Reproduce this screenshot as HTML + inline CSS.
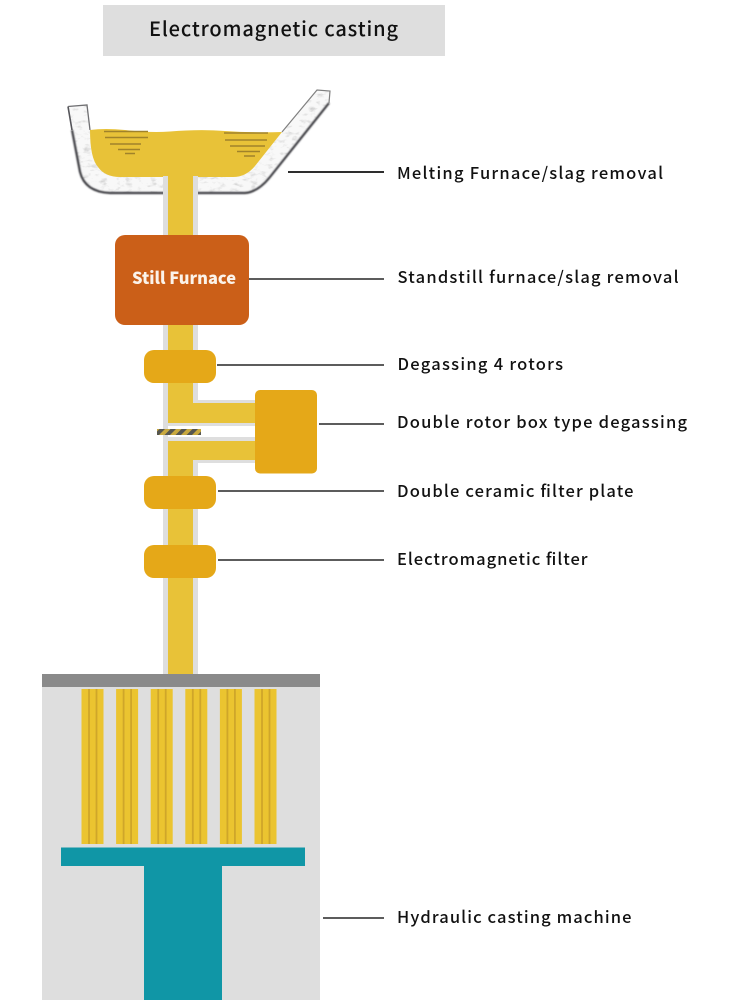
<!DOCTYPE html>
<html><head><meta charset="utf-8">
<style>
html,body{margin:0;padding:0;background:#fff;width:750px;height:1000px;overflow:hidden}
svg{display:block}
text{font-family:"Liberation Sans","Noto Sans CJK SC",sans-serif;fill:#111}
.l{font-family:"Noto Sans CJK SC","Liberation Sans",sans-serif;font-weight:500}
</style></head><body>
<svg width="750" height="1000" viewBox="0 0 750 1000" xmlns="http://www.w3.org/2000/svg">
<defs>
<pattern id="hatch" width="11" height="6" patternUnits="userSpaceOnUse" patternTransform="skewX(-45)">
<rect width="11" height="6" fill="#56564f"/><rect width="5.500" height="6" fill="#c9a93e"/>
</pattern>
<clipPath id="ladle"><path d="M68 106.500 L87 105 L90 130 Q90 158 98 167 Q105 177 120 177 L233 177 Q246 177 255 166 L282 132 L317 90 L330 91 L329 103 L270 177 Q258 192 245 193 L110 193 Q85 192 80 172 Z"/></clipPath>
<filter id="speck" x="0" y="0" width="100%" height="100%">
<feTurbulence type="fractalNoise" baseFrequency="0.12 0.25" numOctaves="3" seed="4"/>
<feColorMatrix values="0 0 0 0 0.5  0 0 0 0 0.5  0 0 0 0 0.5  1.800 0 0 0 -0.950"/>
</filter>
<filter id="soft"><feGaussianBlur stdDeviation="0.700"/></filter>
</defs>
<rect x="103" y="5" width="342" height="51" fill="#dedede"/>
<text class="l" x="149" y="36" font-size="20" textLength="249" lengthAdjust="spacing">Electromagnetic casting</text>

<!-- ladle -->
<path d="M68 106.500 L87 105 L90 130 Q90 158 98 167 Q105 177 120 177 L233 177 Q246 177 255 166 L282 132 L317 90 L330 91 L329 103 L270 177 Q258 192 245 193 L110 193 Q85 192 80 172 Z" fill="#f8f8f8"/>
<rect x="60" y="85" width="280" height="115" filter="url(#speck)" clip-path="url(#ladle)"/>
<path d="M72 130 L80 172 Q85 192 110 193 L245 193 Q258 192 270 177 L329 103" fill="none" stroke="#3e3e42" stroke-width="2.200" filter="url(#soft)"/>
<path d="M68 106.500 L72 130" fill="none" stroke="#55555a" stroke-width="1.600"/>
<path d="M68 106.500 L87 105 L90 130" fill="none" stroke="#6f6f72" stroke-width="1.300"/>
<path d="M282 132 L317 90 L330 91 L329 103" fill="none" stroke="#808080" stroke-width="1.200"/>
<path d="M90 130 Q105 128 125 130 Q150 133 170 131.500 Q200 129 225 131 Q255 133 282 132 L255 166 Q246 177 233 177 L120 177 Q105 177 98 167 Q90 158 90 130 Z" fill="#e8c238"/>
<g stroke="#a0822a" stroke-width="1.600">
<path d="M104 131.500H148M105 137.500H148M110 144H141M118 149.500H140M125 153.500H135"/>
<path d="M224 133H268M225 140H267M230 146H265M237 151.500H260M244 156H255"/>
</g>

<!-- main pipe -->
<rect x="163" y="176" width="35" height="214" fill="#dedede"/>
<rect x="163" y="390" width="5" height="285" fill="#dedede"/>
<rect x="193" y="440" width="5" height="235" fill="#dedede"/>
<rect x="193" y="325" width="5" height="75" fill="#dedede"/>
<rect x="168" y="174" width="25" height="249" fill="#e8c238"/>
<rect x="168" y="441" width="25" height="233" fill="#e8c238"/>
<rect x="193" y="400" width="62" height="26" fill="#dedede"/>
<rect x="168" y="423" width="30" height="3" fill="#dedede"/>
<rect x="193" y="437" width="62" height="26" fill="#dedede"/>
<rect x="168" y="437" width="30" height="4" fill="#dedede"/>
<rect x="193" y="403" width="63" height="20" fill="#e8c238"/>
<rect x="193" y="441" width="63" height="19" fill="#e8c238"/>
<rect x="157" y="429" width="44" height="6" fill="url(#hatch)"/>

<!-- nodes -->
<rect x="115" y="235" width="134" height="90" rx="10" fill="#cb5f18"/>
<text class="l" x="132" y="284" font-size="16.500" style="fill:#fbf3ea;font-weight:900" textLength="104" lengthAdjust="spacingAndGlyphs">Still Furnace</text>
<rect x="144" y="350" width="72" height="33" rx="10" fill="#e5a818"/>
<rect x="255" y="390" width="62" height="83.500" rx="5" fill="#e5a818"/>
<rect x="144" y="476" width="72" height="33" rx="10" fill="#e5a818"/>
<rect x="144" y="545" width="72" height="33" rx="10" fill="#e5a818"/>

<!-- casting machine -->
<rect x="42" y="674" width="278" height="326" fill="#dedede"/>
<rect x="42" y="674" width="278" height="13" fill="#8a8a8a"/>
<g>
<g transform="translate(0 0)"><rect x="81.500" y="689" width="22" height="155" fill="#ebc430"/><path d="M89 689V844M96.500 689V844" stroke="#cfa62a" stroke-width="1.800"/></g>
<g transform="translate(34.600 0)"><rect x="81.500" y="689" width="22" height="155" fill="#ebc430"/><path d="M89 689V844M96.500 689V844" stroke="#cfa62a" stroke-width="1.800"/></g>
<g transform="translate(69.200 0)"><rect x="81.500" y="689" width="22" height="155" fill="#ebc430"/><path d="M89 689V844M96.500 689V844" stroke="#cfa62a" stroke-width="1.800"/></g>
<g transform="translate(103.800 0)"><rect x="81.500" y="689" width="22" height="155" fill="#ebc430"/><path d="M89 689V844M96.500 689V844" stroke="#cfa62a" stroke-width="1.800"/></g>
<g transform="translate(138.400 0)"><rect x="81.500" y="689" width="22" height="155" fill="#ebc430"/><path d="M89 689V844M96.500 689V844" stroke="#cfa62a" stroke-width="1.800"/></g>
<g transform="translate(173 0)"><rect x="81.500" y="689" width="22" height="155" fill="#ebc430"/><path d="M89 689V844M96.500 689V844" stroke="#cfa62a" stroke-width="1.800"/></g>
</g>
<rect x="61" y="847.500" width="244" height="18.500" fill="#1096a6"/>
<rect x="144" y="866" width="78" height="134" fill="#1096a6"/>

<!-- leader lines -->
<g stroke-width="1.800">
<line x1="288" y1="172" x2="384" y2="172" stroke="#111"/>
<line x1="249" y1="279" x2="384" y2="279" stroke="#444"/>
<line x1="217" y1="365" x2="384" y2="365" stroke="#444"/>
<line x1="319" y1="424" x2="384" y2="424" stroke="#444"/>
<line x1="218" y1="491" x2="384" y2="491" stroke="#444"/>
<line x1="218" y1="560" x2="384" y2="560" stroke="#444"/>
<line x1="323" y1="918" x2="384" y2="918" stroke="#444"/>
</g>

<!-- labels -->
<g font-size="16.500" class="l">
<text class="l" x="397" y="179" textLength="266" lengthAdjust="spacing">Melting Furnace/slag removal</text>
<text class="l" x="397.500" y="283" textLength="281" lengthAdjust="spacing">Standstill furnace/slag removal</text>
<text class="l" x="397.500" y="370" textLength="165.500" lengthAdjust="spacing">Degassing 4 rotors</text>
<text class="l" x="397" y="428" textLength="290" lengthAdjust="spacing">Double rotor box type degassing</text>
<text class="l" x="397" y="497" textLength="236.500" lengthAdjust="spacing">Double ceramic filter plate</text>
<text class="l" x="397" y="565" textLength="190.500" lengthAdjust="spacing">Electromagnetic filter</text>
<text class="l" x="397" y="923" textLength="234.500" lengthAdjust="spacing">Hydraulic casting machine</text>
</g>
</svg>
</body></html>
